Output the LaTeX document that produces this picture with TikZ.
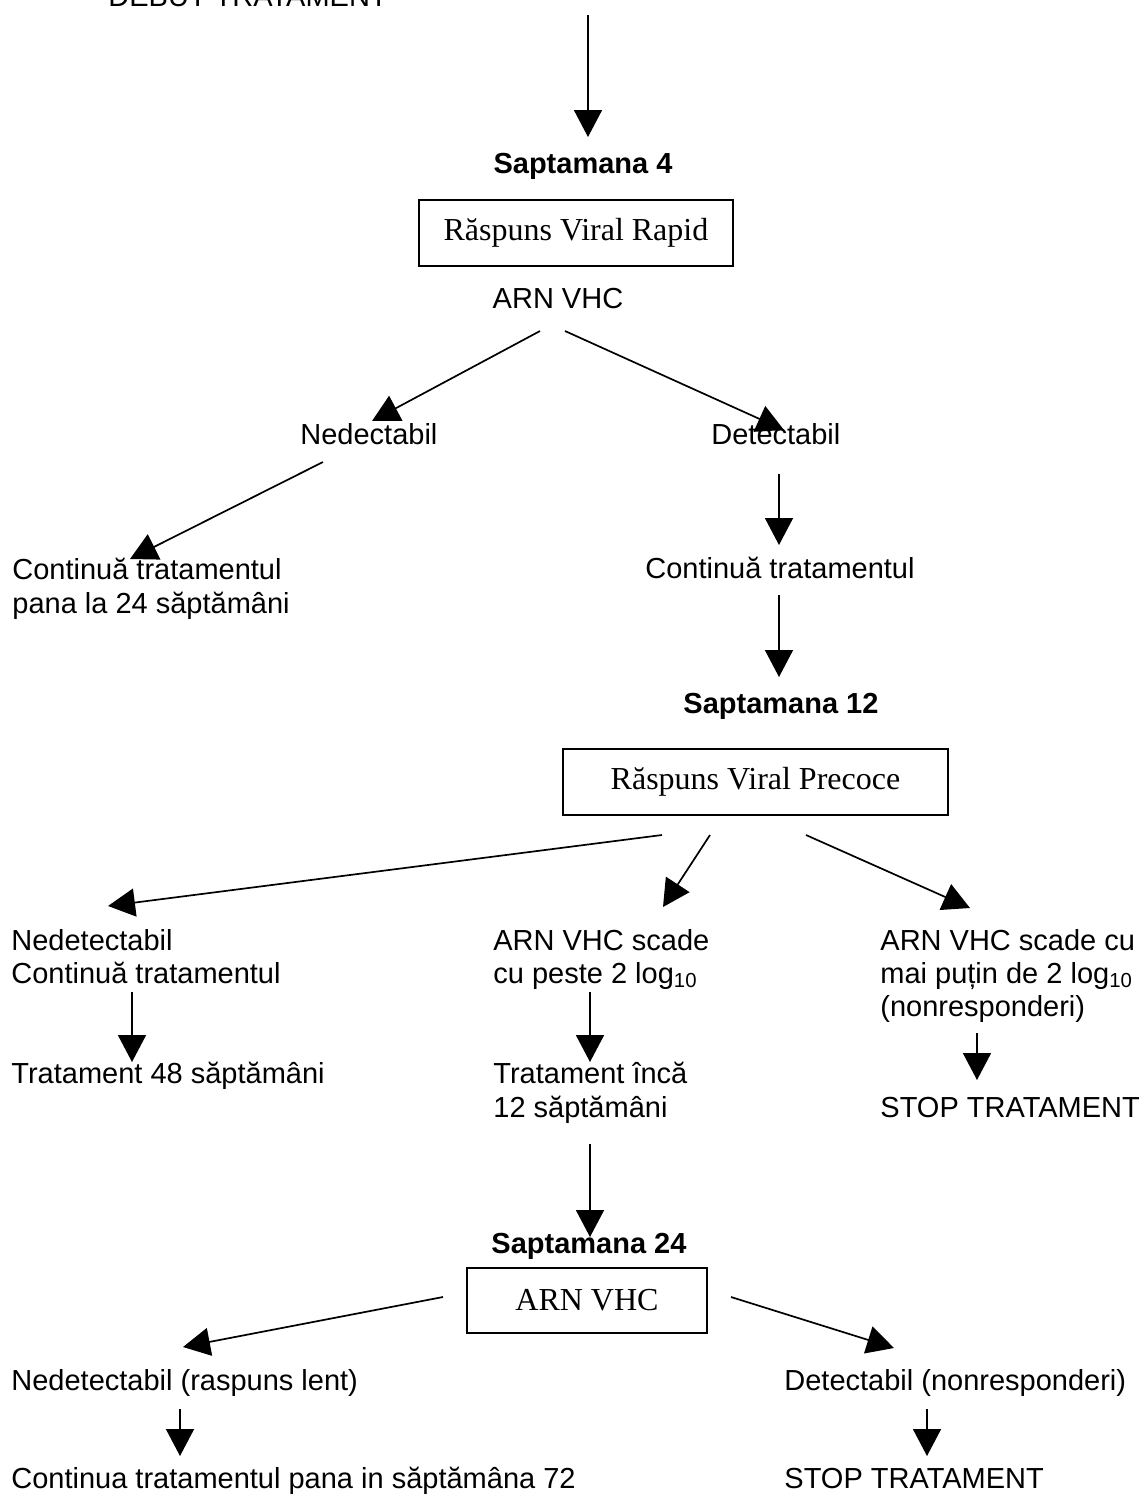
\documentclass[tikz,border=0pt]{standalone}
\usepackage{fontspec}
\setmainfont{Liberation Sans}
\newfontfamily\boxfont{Liberation Serif}
\usetikzlibrary{arrows.meta}

\begin{document}
\begin{tikzpicture}[x=0.5pt,y=-0.5pt,
  lbl/.style={inner sep=0pt,anchor=base west,font=\fontsize{14.5pt}{17pt}\selectfont},
  week/.style={inner sep=0pt,anchor=base,font=\fontsize{14.5pt}{17pt}\selectfont\bfseries},
  plain/.style={inner sep=0pt,anchor=base,font=\fontsize{14.5pt}{17pt}\selectfont},
  stage/.style={draw,line width=1.1pt,inner sep=0pt,font=\fontsize{16pt}{19pt}\selectfont\boxfont},
  arr/.style={line width=0.85pt,-{Triangle[length=13.5pt,width=14pt]}}]

\useasboundingbox (0,0) rectangle (1144,1495);

% ---- start and week 4 ----
\node[lbl] (debut) at (108,6) {DEBUT TRATAMENT};
\node[week] (w4) at (583,173) {Saptamana 4};
\node[stage,minimum width=157pt,minimum height=33pt] (rvr) at (576,233) {Răspuns Viral Rapid};
\node[plain] (arn4) at (558,308) {ARN VHC};
\node[lbl] (ned4) at (300,444) {Nedectabil};
\node[lbl] (det4) at (711,444) {Detectabil};
\node[lbl] (cont4a) at (12,579) {Continuă tratamentul};
\node[lbl] (cont4b) at (12,613) {pana la 24 săptămâni};
\node[lbl] (cont4c) at (645,578) {Continuă tratamentul};

\coordinate (s1) at (588,15);   \coordinate (e1) at (588,137);
\coordinate (s2) at (540,331);  \coordinate (e2) at (372,421);
\coordinate (s3) at (565,331);  \coordinate (e3) at (784,430);
\coordinate (s4) at (323,462);  \coordinate (e4) at (130,559);
\coordinate (s5) at (779,474);  \coordinate (e5) at (779,545);
\coordinate (s6) at (779,595);  \coordinate (e6) at (779,677);

\draw[arr] (s1) -- (e1);
\draw[arr] (s2) -- (e2);
\draw[arr] (s3) -- (e3);
\draw[arr] (s4) -- (e4);
\draw[arr] (s5) -- (e5);
\draw[arr] (s6) -- (e6);

% ---- week 12 ----
\node[week] (w12) at (781,713) {Saptamana 12};
\node[stage,minimum width=192.5pt,minimum height=33pt] (evr) at (755.5,782) {Răspuns Viral Precoce};

\node[lbl] (l1a) at (11,950) {Nedetectabil};
\node[lbl] (l1b) at (11,983) {Continuă tratamentul};
\node[lbl] (l1c) at (11,1083) {Tratament 48 săptămâni};

\node[lbl] (m1a) at (493,950) {ARN VHC scade};
\node[lbl] (m1b) at (493,983) {cu peste 2 log\textsubscript{10}};
\node[lbl] (m1c) at (493,1083) {Tratament încă};
\node[lbl] (m1d) at (493,1117) {12 săptămâni};

\node[lbl] (r1a) at (880,950) {ARN VHC scade cu};
\node[lbl] (r1b) at (880,983) {mai puțin de 2 log\textsubscript{10}};
\node[lbl] (r1c) at (880,1016) {(nonresponderi)};
\node[lbl] (r1d) at (880,1117) {STOP TRATAMENT};

\coordinate (s7) at (662,835);   \coordinate (e7) at (108,906);
\coordinate (s8) at (710,835);   \coordinate (e8) at (663,907);
\coordinate (s9) at (806,835);   \coordinate (e9) at (970,908);
\coordinate (s10) at (132,992);  \coordinate (e10) at (132,1062);
\coordinate (s11) at (590,992);  \coordinate (e11) at (590,1062);
\coordinate (s12) at (977,1033); \coordinate (e12) at (977,1080);

\draw[arr] (s7) -- (e7);
\draw[arr] (s8) -- (e8);
\draw[arr] (s9) -- (e9);
\draw[arr] (s10) -- (e10);
\draw[arr] (s11) -- (e11);
\draw[arr] (s12) -- (e12);

% ---- week 24 ----
\coordinate (s13) at (590,1144); \coordinate (e13) at (590,1237);
\draw[arr] (s13) -- (e13);

\node[week] (w24) at (589,1253) {Saptamana 24};
\node[stage,minimum width=120pt,minimum height=32.5pt] (arn24) at (587,1300.5) {ARN VHC};

\node[lbl] (l2a) at (11,1390) {Nedetectabil (raspuns lent)};
\node[lbl] (l2b) at (11,1488) {Continua tratamentul pana in săptămâna 72};
\node[lbl] (r2a) at (784,1390) {Detectabil (nonresponderi)};
\node[lbl] (r2b) at (784,1488) {STOP TRATAMENT};

\coordinate (s14) at (443,1297); \coordinate (e14) at (183,1347);
\coordinate (s15) at (731,1297); \coordinate (e15) at (894,1348);
\coordinate (s16) at (180,1409); \coordinate (e16) at (180,1456);
\coordinate (s17) at (927,1409); \coordinate (e17) at (927,1456);

\draw[arr] (s14) -- (e14);
\draw[arr] (s15) -- (e15);
\draw[arr] (s16) -- (e16);
\draw[arr] (s17) -- (e17);
\end{tikzpicture}
\end{document}
